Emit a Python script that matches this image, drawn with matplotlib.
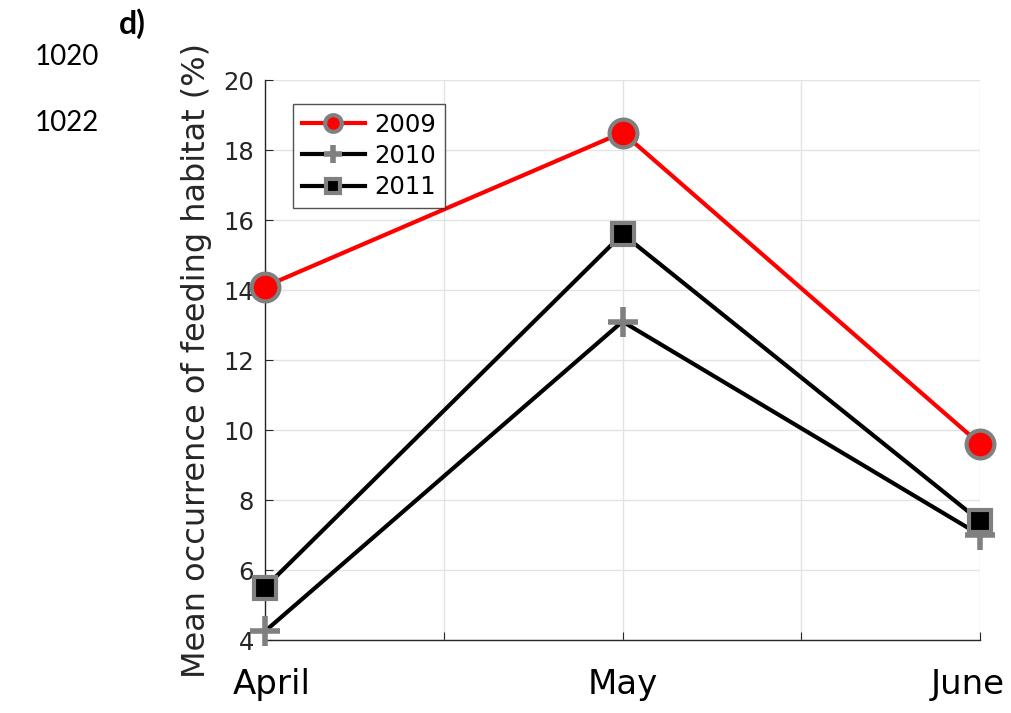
import matplotlib
matplotlib.use("Agg")
import matplotlib.pyplot as plt
import matplotlib.transforms as mtransforms

# data
months = ["April", "May", "June"]
y2009 = [14.1, 18.5, 9.6]
y2010 = [4.25, 13.1, 7.0]
y2011 = [5.5, 15.6, 7.4]

xpos = [1, 2, 3]
edge = "#808080"
dark = "#262626"

fig = plt.figure(figsize=(10.12, 7.13), dpi=100)
ax = fig.add_axes([265 / 1012, 1 - 640 / 713, 715 / 1012, 560 / 713])

ax.plot(xpos, y2009, color="red", lw=3, marker="o", ms=20, mfc="red",
        mec=edge, mew=3, label="2009", zorder=3, clip_on=False)
ax.plot(xpos, y2010, color="black", lw=3, marker="+", ms=22, mec=edge,
        mew=4, label="2010", zorder=3, clip_on=False)
ax.plot(xpos, y2011, color="black", lw=3, marker="s", ms=16, mfc="black",
        mec=edge, mew=3, label="2011", zorder=3, clip_on=False)

ax.set_xlim(1, 3)
ax.set_ylim(4, 20)
ax.set_xticks([1, 1.5, 2, 2.5, 3])
ax.set_xticklabels([months[0], "", months[1], "", months[2]])
ax.set_yticks(range(4, 21, 2))
ax.grid(True, color="#e3e3e3", lw=1)
ax.set_axisbelow(True)
for s in ["top", "right"]:
    ax.spines[s].set_visible(False)
for s in ["left", "bottom"]:
    ax.spines[s].set_color(dark)
    ax.spines[s].set_linewidth(1)
ax.tick_params(axis="both", direction="in", length=6, color=dark)
ax.tick_params(axis="y", labelsize=17.5, labelcolor=dark, pad=8)
ax.tick_params(axis="x", labelsize=24.5, labelcolor="black", pad=20)

# shift first and last month labels like the reference
shifts = {0: 7, 4: -12}
for i, lab in enumerate(ax.get_xticklabels()):
    if i in shifts:
        off = mtransforms.ScaledTranslation(shifts[i] / 100, 0, fig.dpi_scale_trans)
        lab.set_transform(lab.get_transform() + off)

ax.set_ylabel("Mean occurrence of feeding habitat (%)", fontsize=23,
              color=dark, labelpad=8)

leg = ax.legend(loc="upper left", bbox_to_anchor=(293 / 1012, 1 - 104 / 713),
                bbox_transform=fig.transFigure, fontsize=17.5, frameon=True,
                fancybox=False, edgecolor=dark, markerscale=0.6,
                handlelength=2.6, borderpad=0.35, labelspacing=0.3,
                handletextpad=0.4, borderaxespad=0)
leg.get_frame().set_linewidth(1)

fig.text(132 / 1012, 1 - 24 / 713, "d)", fontsize=23, fontweight="bold",
         family="Lato", ha="center", va="center")
fig.text(35 / 1012, 1 - 57 / 713, "1020", fontsize=20, family="Lato",
         ha="left", va="center")
fig.text(35 / 1012, 1 - 123 / 713, "1022", fontsize=20, family="Lato",
         ha="left", va="center")

fig.savefig("out.png", dpi=100)
